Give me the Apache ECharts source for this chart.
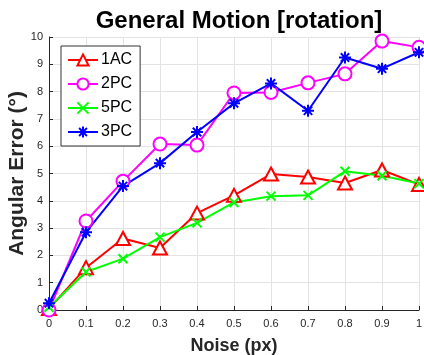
<!DOCTYPE html>
<html><head><meta charset="utf-8">
<script src="https://cdn.jsdelivr.net/npm/echarts@6/dist/echarts.min.js"></script>
<style>html,body{margin:0;padding:0;background:#fff}#c{width:424px;height:355px}</style>
</head><body><div id="c"></div>
<script>
var noise = [0, 0.1, 0.2, 0.3, 0.4, 0.5, 0.6, 0.7, 0.8, 0.9, 1.0];
var ac1 = [0.05, 1.55, 2.62, 2.27, 3.55, 4.2, 4.98, 4.87, 4.65, 5.13, 4.6];
var pc2 = [0.0, 3.26, 4.72, 6.08, 6.04, 7.95, 7.97, 8.32, 8.65, 9.85, 9.62];
var pc5 = [0.1, 1.39, 1.88, 2.67, 3.19, 3.94, 4.17, 4.2, 5.08, 4.92, 4.63];
var pc3 = [0.25, 2.85, 4.54, 5.38, 6.52, 7.57, 8.3, 7.3, 9.25, 8.84, 9.44];
var yTicks = [0,1,2,3,4,5,6,7,8,9,10];

function pairs(v){ return noise.map(function(x,i){ return [x, v[i]]; }); }
var FONT = '"Liberation Sans", Arial, sans-serif';
var crossPath = 'path://M0,0L10,10M10,0L0,10';
var starPath = 'path://M5,0L5,10M0,5L10,5M1.5,1.5L8.5,8.5M8.5,1.5L1.5,8.5';
var triPath = 'path://M5,0L10,9L0,9Z';

function mk(name, data, color, symbol, size, fill){
  return {
    name: name, type: 'line', data: pairs(data),
    symbol: symbol, symbolSize: size,
    lineStyle: {color: color, width: 2},
    itemStyle: {color: fill, borderColor: color, borderWidth: 2},
    emphasis: {disabled: true}, animation: false
  };
}

var chart = echarts.init(document.getElementById('c'));
chart.setOption({
  animation: false,
  title: {text: 'General Motion [rotation]', left: 234, textAlign: 'center', top: 4,
    textStyle: {fontFamily: FONT, fontSize: 24, fontWeight: 'bold', color: '#000'}},
  grid: {left: 49, right: 5, top: 37, bottom: 45, containLabel: false, outerBoundsMode: 'none'},
  legend: {
    orient: 'vertical', left: 61, top: 46,
    padding: [6, 8, 6, 6], itemGap: 8, itemWidth: 30, itemHeight: 14,
    borderColor: '#333', borderWidth: 1, borderRadius: 0, backgroundColor: '#fff',
    textStyle: {fontFamily: FONT, fontSize: 16, color: '#000', padding: [0,0,0,-2]},
    data: ['1AC', '2PC', '5PC', '3PC']
  },
  xAxis: {
    type: 'value', min: 0, max: 1, interval: 0.1,
    name: 'Noise (px)', nameLocation: 'middle', nameGap: 27, nameMoveOverlap: false,
    nameTextStyle: {fontFamily: FONT, fontSize: 18, fontWeight: 'bold', color: '#262626'},
    axisLine: {lineStyle: {color: '#262626', width: 1}},
    axisTick: {inside: true, length: 4, lineStyle: {color: '#262626'}},
    axisLabel: {fontFamily: FONT, fontSize: 11, color: '#262626', margin: 8,
      formatter: function(v){ return String(Math.round(v*10)/10); }},
    splitLine: {show: true, lineStyle: {color: '#e3e3e3', width: 1}}
  },
  yAxis: {
    type: 'value', min: 0, max: 10, interval: 1,
    name: 'Angular Error (°)', nameLocation: 'middle', nameGap: 21, nameMoveOverlap: false,
    nameTextStyle: {fontFamily: FONT, fontSize: 21, fontWeight: 'bold', color: '#262626'},
    axisLine: {show: true, lineStyle: {color: '#262626', width: 1}},
    axisTick: {show: true, inside: true, length: 4, lineStyle: {color: '#262626'}},
    axisLabel: {fontFamily: FONT, fontSize: 11, color: '#262626', margin: 6,
      formatter: function(v){ return yTicks.indexOf(v) >= 0 ? String(v) : ''; }},
    splitLine: {show: true, lineStyle: {color: '#e3e3e3', width: 1}}
  },
  series: [
    mk('1AC', ac1, '#ff0000', triPath, [14, 13], '#fff'),
    mk('2PC', pc2, '#ff00ff', 'circle', 13, '#fff'),
    mk('5PC', pc5, '#00ff00', crossPath, 9, '#00ff00'),
    mk('3PC', pc3, '#0000ff', starPath, 12, '#0000ff')
  ]
});
</script>
</body></html>
